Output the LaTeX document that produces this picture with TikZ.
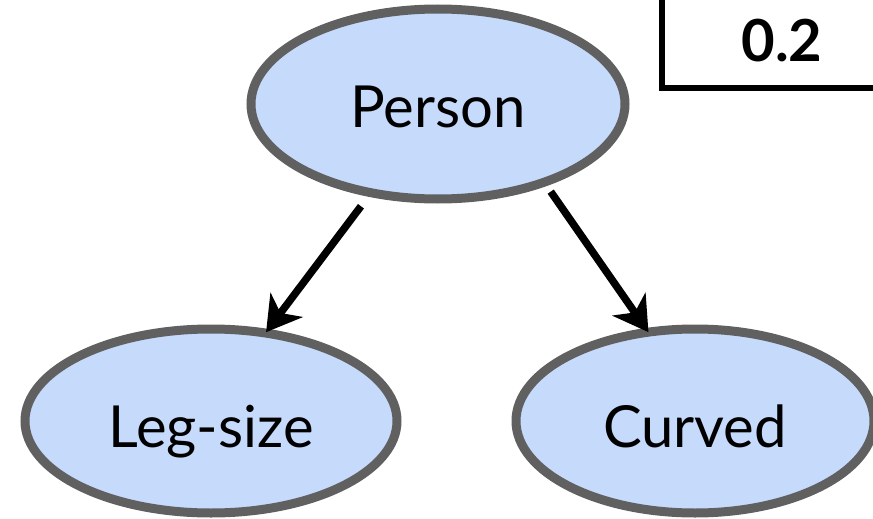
\documentclass[tikz,border=0pt]{standalone}
\usepackage{fontspec}
\setmainfont{Lato}
\usetikzlibrary{shapes.geometric,arrows.meta}
\definecolor{nodefill}{RGB}{198,218,252}
\definecolor{nodeline}{RGB}{96,96,96}
\tikzset{
  varnode/.style={ellipse, draw=nodeline, fill=nodefill, line width=9pt, inner sep=0pt,
    font=\fontsize{58}{70}\selectfont, text depth=0pt},
  edgearrow/.style={line width=7.5pt, -{Stealth[length=34pt,width=40pt,inset=10pt]}},
  valbox/.style={draw=black, line width=6.5pt, inner sep=0pt, text width=240pt, align=center,
    text height=92pt, text depth=26pt, font=\fontsize{58}{70}\selectfont\bfseries}
}
\begin{document}
\begin{tikzpicture}[x=1pt,y=-1pt]
\useasboundingbox (0,0) rectangle (873,519);
\clip (0,0) rectangle (873,519);
\node[varnode, minimum width=374pt, minimum height=190pt, text height=48pt] (P) at (438,104) {Person};
\node[varnode, minimum width=372pt, minimum height=184pt, text height=52pt] (L) at (211,421) {Leg-size};
\node[varnode, minimum width=358pt, minimum height=184pt, text height=52pt] (C) at (695,421) {Curved};
\node[valbox] (V) at (782,29) {0.2};
\draw[edgearrow, shorten <=12pt, shorten >=-4pt] (P.-127.4) -- (L.58.7);
\draw[edgearrow, shorten <=7pt, shorten >=-5pt] (P.-37) -- (C.118.2);
\end{tikzpicture}
\end{document}
